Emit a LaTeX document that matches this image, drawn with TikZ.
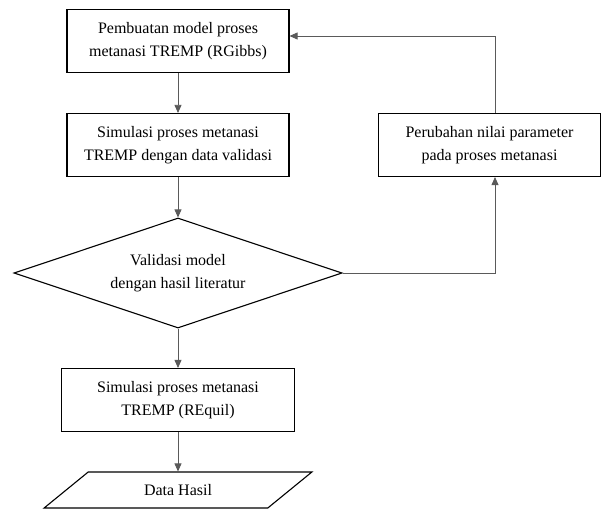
\documentclass[tikz,border=0pt]{standalone}
\usepackage{fontspec}
\setmainfont{Liberation Serif}
\usepackage{tikz}
\usetikzlibrary{arrows.meta,positioning,shapes.geometric,calc}
\definecolor{fcline}{RGB}{90,90,90}
\tikzset{
  fcbox/.style={draw=black, line width=1.1pt, align=center, minimum width=222pt,
    minimum height=63pt, inner sep=2pt, font=\fontsize{16}{23}\selectfont},
  fcdec/.style={draw=black, line width=1.1pt, diamond, aspect=2.98, align=center,
    minimum width=328pt, minimum height=110pt, inner sep=0pt,
    font=\fontsize{16}{23}\selectfont},
  fcdata/.style={draw=black, line width=1.1pt, trapezium, trapezium stretches=true,
    trapezium left angle=34, trapezium right angle=146, minimum width=268pt,
    minimum height=36pt, inner sep=0pt, font=\fontsize{16}{23}\selectfont},
  fcarrow/.style={-{Triangle[length=8pt,width=7pt]}, line width=0.8pt, draw=fcline}
}
\begin{document}
\begin{tikzpicture}[x=1pt,y=-1pt]
  \useasboundingbox (0,0) rectangle (602,510);
  \node[fcbox] (mA) at (178,41) {Pembuatan model proses\\metanasi TREMP (RGibbs)};
  \node[fcbox] (mB) at (178,145) {Simulasi proses metanasi\\TREMP dengan data validasi};
  \node[fcdec] (mC) at (178,273) {Validasi model\\dengan hasil literatur};
  \node[fcbox, minimum width=233pt] (mD) at (178,400) {Simulasi proses metanasi\\TREMP (REquil)};
  \node[fcdata] (mE) at (178,490) {Data Hasil};
  \node[fcbox] (mP) at (489.5,145) {Perubahan nilai parameter\\pada proses metanasi};
  \coordinate (mT) at (495,36);
  \draw[fcarrow] (mA) -- (mB);
  \draw[fcarrow] (mB) -- (mC);
  \draw[fcarrow] (mC) -- (mD);
  \draw[fcarrow] (mD) -- (mE);
  \draw[fcarrow] (mC.east) -| (mP.south -| mT);
  \draw[fcarrow] (mP.north -| mT) -- (mT) -- (mT -| mA.east);
\end{tikzpicture}
\end{document}
